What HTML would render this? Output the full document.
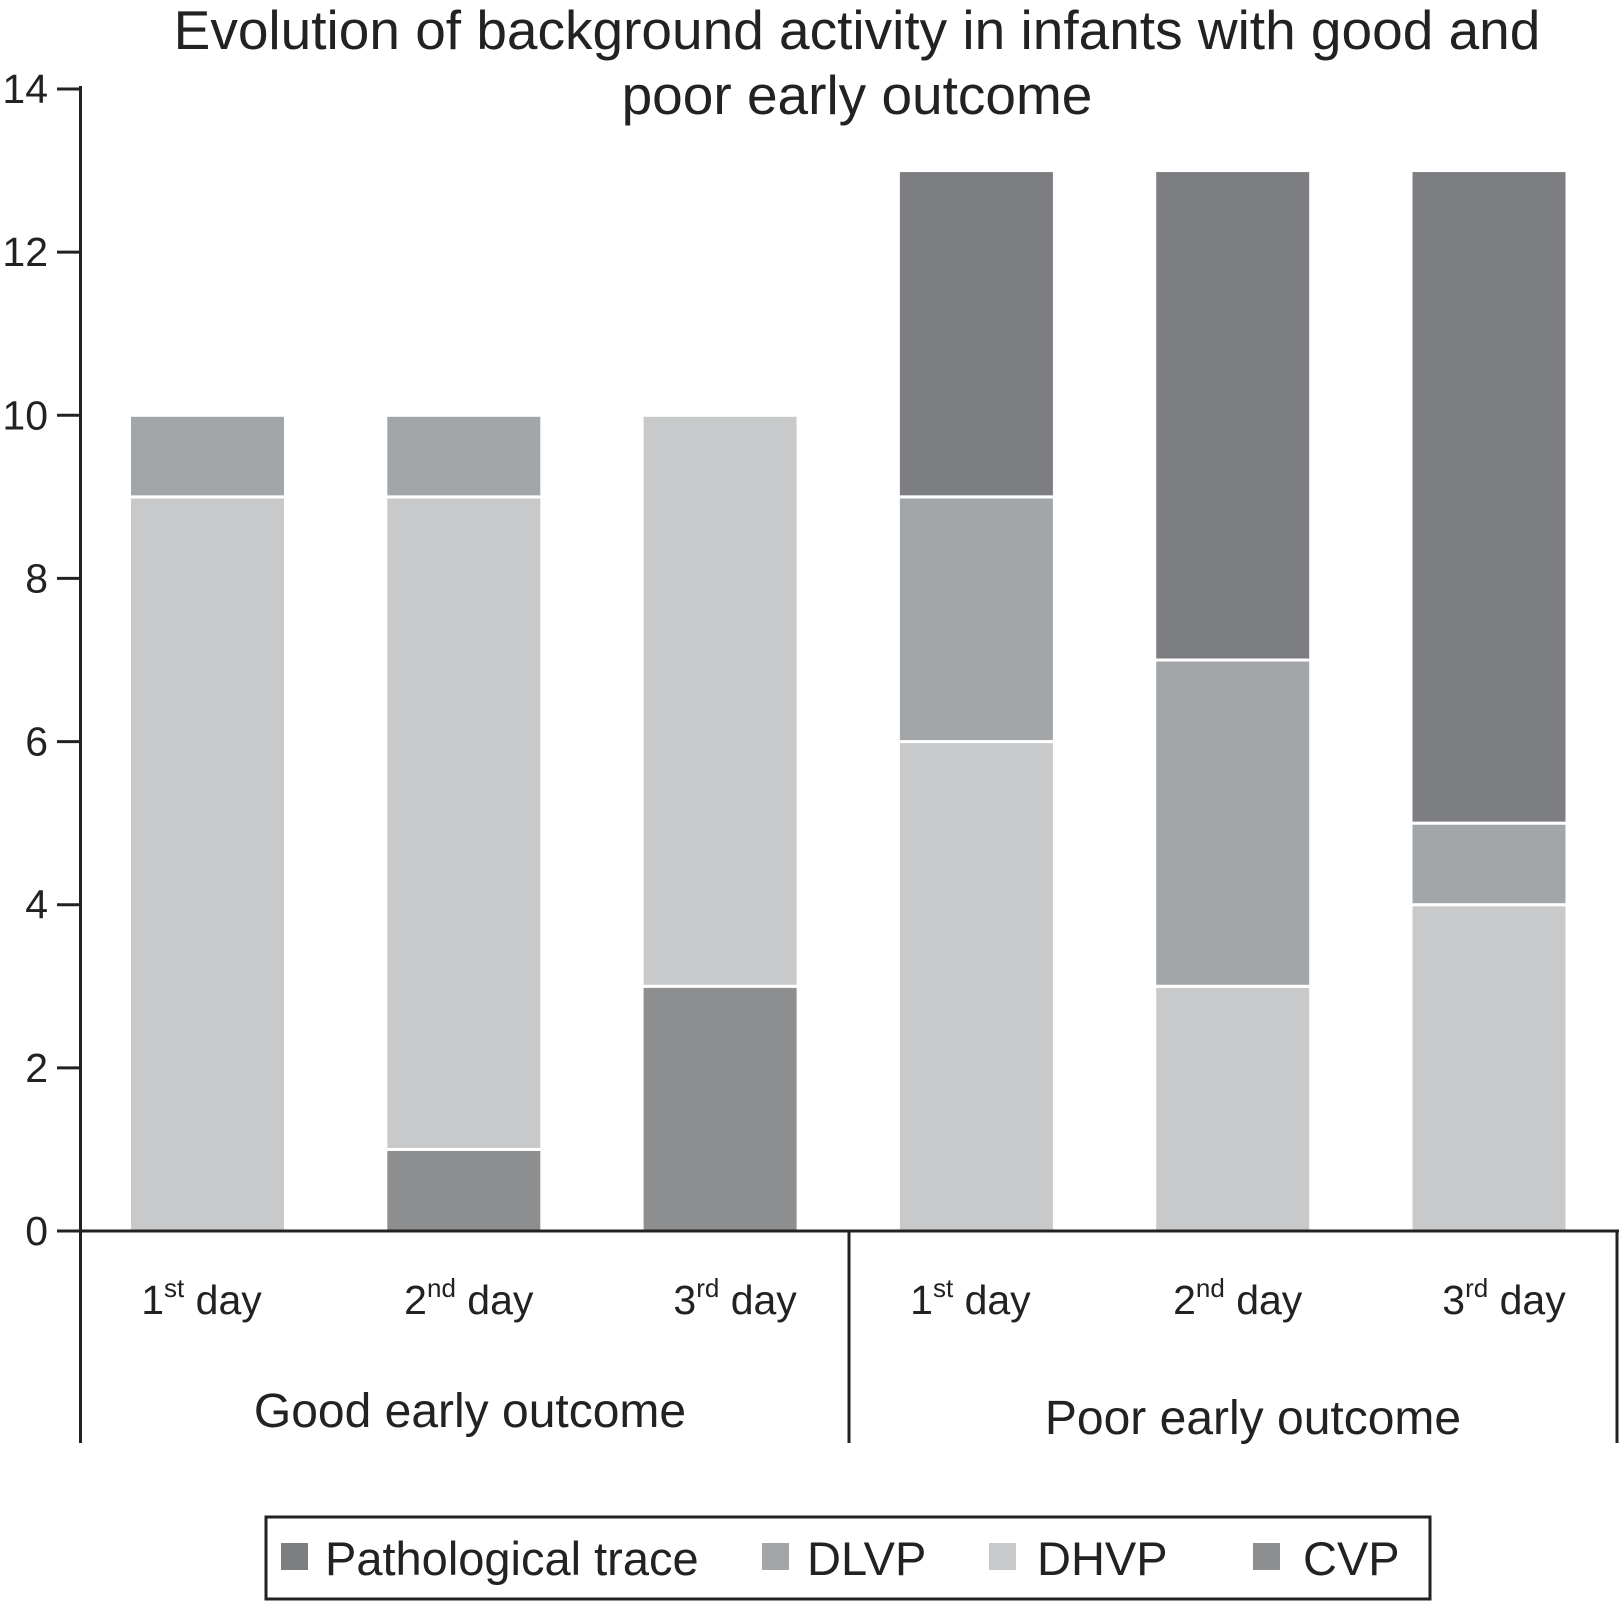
<!DOCTYPE html>
<html><head><meta charset="utf-8"><style>
body{margin:0;background:#fff}
svg{display:block;font-family:"Liberation Sans",sans-serif}
</style></head><body>
<svg id="chart" width="1619" height="1601" viewBox="0 0 1619 1601">
<text x="857" y="49" font-size="55" text-anchor="middle" fill="#222">Evolution of background activity in infants with good and</text>
<text x="857" y="114" font-size="55" text-anchor="middle" fill="#222">poor early outcome</text>
<g id="bars"></g>
<g id="axes"></g>
<g>
<rect x="266" y="1517" width="1164" height="82" fill="none" stroke="#222" stroke-width="3"/>
<rect x="281" y="1543" width="27" height="27" fill="#7d7e82"/>
<text x="325" y="1575" font-size="47" fill="#222">Pathological trace</text>
<rect x="762" y="1543" width="27" height="27" fill="#a3a6a9"/>
<text x="807" y="1575" font-size="47" fill="#222">DLVP</text>
<rect x="989" y="1543" width="27" height="27" fill="#c8c9cb"/>
<text x="1037" y="1575" font-size="47" fill="#222">DHVP</text>
<rect x="1253" y="1543" width="27" height="27" fill="#8d8e90"/>
<text x="1303" y="1575" font-size="47" fill="#222">CVP</text>
</g>
</svg>
<script>
const days = ["1","2","3","1","2","3"];
const suffixes = ["st","nd","rd","st","nd","rd"];
const groups = ["Good early outcome","Poor early outcome"];
const cvp = [0,1,3,0,0,0];
const dhvp = [9,8,7,6,3,4];
const dlvp = [1,1,0,3,4,1];
const path = [0,0,0,4,6,8];
const yTicks = [0,2,4,6,8,10,12,14];

const NS="http://www.w3.org/2000/svg";
const y0=1231, yTop=89, yMax=14;
const y = v => y0 - v*(y0-yTop)/yMax;
const xc = i => 207.5 + i*256.3;
const bw = 156;
const labelShift=[-6,5,15];
const bars=document.getElementById('bars'), axes=document.getElementById('axes');
function mk(tag,attrs,parent){const e=document.createElementNS(NS,tag);for(const k in attrs)e.setAttribute(k,attrs[k]);parent.appendChild(e);return e;}
const series=[["cvp",cvp,"#8d8e90"],["dhvp",dhvp,"#c8c9cb"],["dlvp",dlvp,"#a3a6a9"],["pathological",path,"#7d7e82"]];
for(let i=0;i<days.length;i++){
  let base=0;
  for(const [nm,arr,col] of series){
    const v=arr[i]; if(!v) continue;
    const r=mk('rect',{x:xc(i)-bw/2,y:y(base+v),width:bw,height:y(base)-y(base+v),fill:col,stroke:'#fff','stroke-width':3},bars);
    
    
    base+=v;
  }
  const t=mk('text',{x:xc(i)+labelShift[i%3],y:1314,'font-size':41,'text-anchor':'middle',fill:'#222'},axes);
  
  
  t.innerHTML=days[i]+'<tspan dy="-17" font-size="26">'+suffixes[i]+'</tspan><tspan dy="17"> day</tspan>';
}
mk('line',{x1:80.5,y1:86,x2:80.5,y2:1443,stroke:'#222','stroke-width':3},axes);
mk('line',{x1:80.5,y1:y0,x2:1619,y2:y0,stroke:'#222','stroke-width':3},axes);
mk('line',{x1:849,y1:y0,x2:849,y2:1443,stroke:'#222','stroke-width':3},axes);
mk('line',{x1:1617,y1:y0,x2:1617,y2:1443,stroke:'#222','stroke-width':3},axes);
for(const v of yTicks){
  mk('line',{x1:57,y1:y(v),x2:80,y2:y(v),stroke:'#222','stroke-width':3},axes);
  const t=mk('text',{x:48,y:y(v)+14,'font-size':41,'text-anchor':'end',fill:'#222'},axes);
  
  
  t.textContent=v;
}
const gx=[470,1253], gy=[1427,1434];
groups.forEach((g,i)=>{
  const t=mk('text',{x:gx[i],y:gy[i],'font-size':48,'text-anchor':'middle',fill:'#222'},axes);
  
  
  t.textContent=g;
});
</script>
</body></html>
